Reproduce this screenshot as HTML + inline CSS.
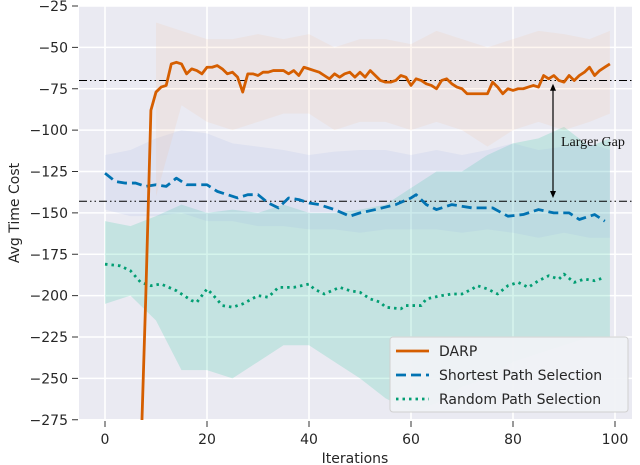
<!DOCTYPE html>
<html><head><meta charset="utf-8"><style>
body{margin:0;background:#fff}
svg{display:block;font-family:"DejaVu Sans","Liberation Sans",sans-serif}
</style></head><body>
<svg id="chart" width="640" height="465" viewBox="0 0 640 465">
<defs><clipPath id="clip"><rect x="79" y="6" width="553" height="414"/></clipPath></defs>
<rect x="79" y="6" width="553" height="414" fill="#eaeaf2"/>
<g id="grid"></g>
<g id="bands" clip-path="url(#clip)"></g>
<g id="lines" clip-path="url(#clip)"></g>
<g id="axes"></g>
</svg>
<script>
const xTicks=[0,20,40,60,80,100];
const yTicks=[-25,-50,-75,-100,-125,-150,-175,-200,-225,-250,-275];
const darpIter=[7,8,9,10,11,12,13,14,15,16,17,18,19,20,21,22,23,24,25,26,27,28,29,30,31,32,33,34,35,36,37,38,39,40,41,42,43,44,45,46,47,48,49,50,51,52,53,54,55,56,57,58,59,60,61,62,63,64,65,66,67,68,69,70,71,72,73,74,75,76,77,78,79,80,81,82,83,84,85,86,87,88,89,90,91,92,93,94,95,96,97,98,99];
const darpVal=[-300,-200,-88,-77,-74,-73,-60,-59,-60,-66,-63,-64,-66,-62,-62,-61,-63,-66,-65,-68,-77,-66,-66,-67,-65,-65,-64,-64,-64,-66,-64,-67,-62,-63,-64,-65,-67,-69,-66,-68,-66,-65,-68,-65,-68,-64,-67,-70,-71,-71,-70,-67,-68,-73,-69,-70,-72,-73,-75,-70,-69,-72,-74,-75,-78,-78,-78,-78,-78,-71,-74,-78,-75,-76,-75,-75,-74,-73,-74,-67,-69,-67,-70,-71,-67,-70,-67,-65,-62,-67,-64,-62,-60];
const spIter=[0,2,4,6,8,10,12,14,16,18,20,22,24,26,28,30,32,34,36,38,40,42,45,48,50,53,57,60,61,63,65,68,72,76,79,82,85,88,91,93,96,98];
const spVal=[-126,-131,-132,-132,-134,-133,-134,-129,-133,-133,-133,-137,-139,-141,-139,-139,-144,-147,-141,-142,-144,-145,-148,-152,-150,-148,-145,-141,-139,-145,-148,-145,-147,-147,-152,-151,-148,-150,-150,-154,-151,-155];
const rpIter=[0,3,5,7,9,11,14,17,18,20,21,23,25,27,30,32,34,37,40,41,43,46,48,50,52,54,55,58,59,62,63,66,68,70,72,73,75,77,79,81,83,85,87,89,90,92,94,96,98];
const rpVal=[-181,-182,-185,-192,-194,-193,-197,-203,-204,-196,-199,-206,-207,-205,-200,-201,-195,-195,-193,-196,-199,-195,-197,-198,-202,-204,-207,-208,-206,-206,-202,-200,-199,-199,-196,-194,-196,-199,-194,-192,-195,-191,-188,-190,-187,-192,-190,-191,-189];
const bandIter=[0,5,10,15,20,25,30,35,40,45,50,55,60,65,70,75,80,85,90,95,99];
const darpHi=[null,null,-35,-40,-45,-45,-42,-45,-42,-50,-45,-45,-48,-40,-45,-50,-45,-40,-42,-45,-40];
const darpLo=[null,null,-140,-85,-95,-100,-95,-90,-90,-100,-95,-95,-100,-95,-100,-110,-100,-95,-100,-95,-90];
const spHi=[-115,-112,-105,-100,-102,-108,-110,-112,-115,-113,-112,-112,-115,-112,-115,-112,-108,-112,-110,-108,-112];
const spLo=[-148,-152,-152,-150,-155,-155,-158,-158,-160,-160,-162,-160,-160,-160,-162,-160,-162,-165,-162,-165,-165];
const rpHi=[-155,-158,-152,-145,-150,-148,-150,-145,-150,-150,-148,-145,-135,-125,-125,-115,-108,-105,-98,-110,-105];
const rpLo=[-205,-200,-215,-245,-245,-250,-240,-230,-230,-240,-250,-262,-270,-265,-255,-250,-240,-235,-230,-225,-225];
const refLines=[-70,-143];

const NS='http://www.w3.org/2000/svg';
const X=v=>105+v*5.1;
const Y=v=>6+(-25-v)*1.655;
function mk(p,t,a){const e=document.createElementNS(NS,t);for(const k in a)e.setAttribute(k,a[k]);p.appendChild(e);return e;}
const grid=document.getElementById('grid'),bands=document.getElementById('bands'),lines=document.getElementById('lines'),axes=document.getElementById('axes');
xTicks.forEach(t=>{
  const g=mk(grid,'line',{x1:X(t),x2:X(t),y1:6,y2:420,stroke:'#fff','stroke-width':1.6});
  
  
  mk(axes,'line',{x1:X(t),x2:X(t),y1:421,y2:427,stroke:'#333','stroke-width':1});
  const l=mk(axes,'text',{x:X(t),y:444,'font-size':14,'text-anchor':'middle',fill:'#262626'});
  l.textContent=t;
  
  
});
yTicks.forEach(t=>{
  const g=mk(grid,'line',{x1:79,x2:632,y1:Y(t),y2:Y(t),stroke:'#fff','stroke-width':1.6});
  
  
  mk(axes,'line',{x1:72,x2:78,y1:Y(t),y2:Y(t),stroke:'#333','stroke-width':1});
  const l=mk(axes,'text',{x:68,y:Y(t)+5,'font-size':14,'text-anchor':'end',fill:'#262626'});
  l.textContent=String(t).replace('-','\u2212');
  
  
});
function band(hi,lo,col,op,name){
  const up=[],dn=[];
  bandIter.forEach((it,i)=>{if(hi[i]!==null){up.push(X(it)+','+Y(hi[i]));dn.unshift(X(it)+','+Y(lo[i]));}});
  const p=mk(bands,'polygon',{points:up.concat(dn).join(' '),fill:col,'fill-opacity':op});
  
  
}
band(rpHi,rpLo,'#2fc7a0',0.2,'random-band');
band(spHi,spLo,'#8aa6e8',0.12,'shortest-band');
band(darpHi,darpLo,'#f5b585',0.12,'darp-band');
refLines.forEach(v=>{
  const l=mk(lines,'line',{x1:79,x2:632,y1:Y(v),y2:Y(v),stroke:'#000','stroke-width':1,'stroke-dasharray':'8 3 1.5 3 1.5 3'});
  
  
});
function series(it,vals,col,dash,name){
  const pts=it.map((x,i)=>X(x)+','+Y(vals[i])).join(' ');
  const a={points:pts,fill:'none',stroke:col,'stroke-width':2.8,'stroke-linejoin':'round'};
  if(dash)a['stroke-dasharray']=dash;
  const p=mk(lines,'polyline',a);
  
  
}
series(rpIter,rpVal,'#029e73','2.5 4','random-line');
series(spIter,spVal,'#0173b2','10 5','shortest-line');
series(darpIter,darpVal,'#d55e00',null,'darp-line');
const ax=553;
mk(axes,'line',{x1:ax,x2:ax,y1:Y(-72)+4,y2:Y(-141)-4,stroke:'#000','stroke-width':1.2});
mk(axes,'polygon',{points:`${ax},${Y(-72)} ${ax-3},${Y(-72)+7} ${ax+3},${Y(-72)+7}`,fill:'#000'});
mk(axes,'polygon',{points:`${ax},${Y(-141)} ${ax-3},${Y(-141)-7} ${ax+3},${Y(-141)-7}`,fill:'#000'});
const ann=mk(axes,'text',{x:561,y:146,'font-size':14,'font-family':'Liberation Serif, serif',fill:'#111'});
ann.textContent='Larger Gap';


const xt=mk(axes,'text',{x:355,y:463,'font-size':14,'text-anchor':'middle',fill:'#262626'});
xt.textContent='Iterations';


const yt=mk(axes,'text',{x:0,y:0,'font-size':14,'text-anchor':'middle',fill:'#262626',transform:'translate(19,213) rotate(-90)'});
yt.textContent='Avg Time Cost';


const lg=mk(axes,'g',{});


mk(lg,'rect',{x:390,y:337,width:238,height:75,rx:3,fill:'#f0f2f6','fill-opacity':0.95,stroke:'#d0d0d0'});
const ent=[['DARP','#d55e00',null],['Shortest Path Selection','#0173b2','10 5'],['Random Path Selection','#029e73','2.5 4']];
ent.forEach((e,i)=>{
  const y=351+i*24;
  const a={x1:396,x2:429,y1:y,y2:y,stroke:e[1],'stroke-width':2.8};
  if(e[2])a['stroke-dasharray']=e[2];
  mk(lg,'line',a);
  const t=mk(lg,'text',{x:439,y:y+5,'font-size':14,fill:'#262626'});
  t.textContent=e[0];
  
  
});
</script>
</body></html>
